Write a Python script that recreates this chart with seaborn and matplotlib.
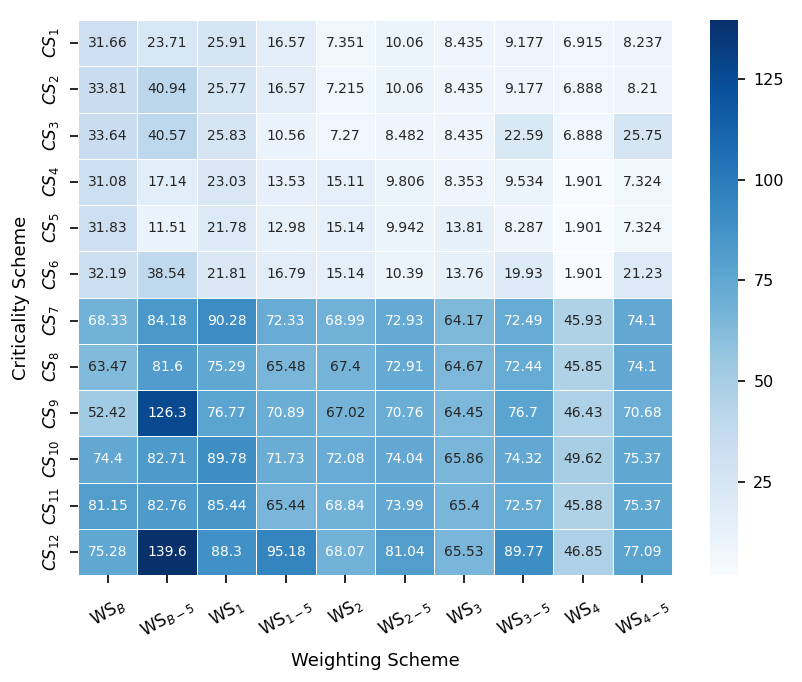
import numpy as np
import pandas as pd
import matplotlib
matplotlib.use("Agg")
import matplotlib.pyplot as plt
import seaborn as sns

col_labels = ["WS$_B$", "WS$_{B-5}$", "WS$_1$", "WS$_{1-5}$", "WS$_2$", "WS$_{2-5}$",
              "WS$_3$", "WS$_{3-5}$", "WS$_4$", "WS$_{4-5}$"]
row_labels = [f"$CS_{{{i}}}$" for i in range(1, 13)]

cs1 = [31.66, 23.71, 25.91, 16.57, 7.351, 10.06, 8.435, 9.177, 6.915, 8.237]
cs2 = [33.81, 40.94, 25.77, 16.57, 7.215, 10.06, 8.435, 9.177, 6.888, 8.21]
cs3 = [33.64, 40.57, 25.83, 10.56, 7.27, 8.482, 8.435, 22.59, 6.888, 25.75]
cs4 = [31.08, 17.14, 23.03, 13.53, 15.11, 9.806, 8.353, 9.534, 1.901, 7.324]
cs5 = [31.83, 11.51, 21.78, 12.98, 15.14, 9.942, 13.81, 8.287, 1.901, 7.324]
cs6 = [32.19, 38.54, 21.81, 16.79, 15.14, 10.39, 13.76, 19.93, 1.901, 21.23]
cs7 = [68.33, 84.18, 90.28, 72.33, 68.99, 72.93, 64.17, 72.49, 45.93, 74.1]
cs8 = [63.47, 81.6, 75.29, 65.48, 67.4, 72.91, 64.67, 72.44, 45.85, 74.1]
cs9 = [52.42, 126.3, 76.77, 70.89, 67.02, 70.76, 64.45, 76.7, 46.43, 70.68]
cs10 = [74.4, 82.71, 89.78, 71.73, 72.08, 74.04, 65.86, 74.32, 49.62, 75.37]
cs11 = [81.15, 82.76, 85.44, 65.44, 68.84, 73.99, 65.4, 72.57, 45.88, 75.37]
cs12 = [75.28, 139.6, 88.3, 95.18, 68.07, 81.04, 65.53, 89.77, 46.85, 77.09]

df = pd.DataFrame([cs1, cs2, cs3, cs4, cs5, cs6, cs7, cs8, cs9, cs10, cs11, cs12],
                  index=row_labels, columns=col_labels)

plt.rcParams["font.family"] = ["DejaVu Sans"]
fig = plt.figure(figsize=(8.03, 6.82), dpi=100)
ax = fig.add_axes([78/803, 1-575/682, (672-78)/803, (575-20)/682])
cax = fig.add_axes([710/803, 1-575/682, 28/803, (575-20)/682])

sns.heatmap(df, ax=ax, cbar_ax=cax, cmap="Blues", annot=True, fmt=".4g",
            annot_kws={"fontsize": 10}, linewidths=0.5, linecolor="white")

ax.set_xlabel("Weighting Scheme", fontsize=13, labelpad=8)
ax.set_ylabel("Criticality Scheme", fontsize=13, labelpad=8)
ax.tick_params(axis="both", length=6, width=1.2, color="black", bottom=True, left=True)
ax.tick_params(axis="x", pad=8)
ax.tick_params(axis="y", pad=6)
plt.setp(ax.get_xticklabels(), rotation=30, fontsize=12)
plt.setp(ax.get_yticklabels(), rotation=90, fontsize=12, va="center")
cax.set_yticks([25, 50, 75, 100, 125])
cax.tick_params(labelsize=11.5, length=5, width=1.2, color="black", right=True, pad=6)
for s in cax.spines.values():
    s.set_visible(False)

fig.savefig("out.png", dpi=100)
